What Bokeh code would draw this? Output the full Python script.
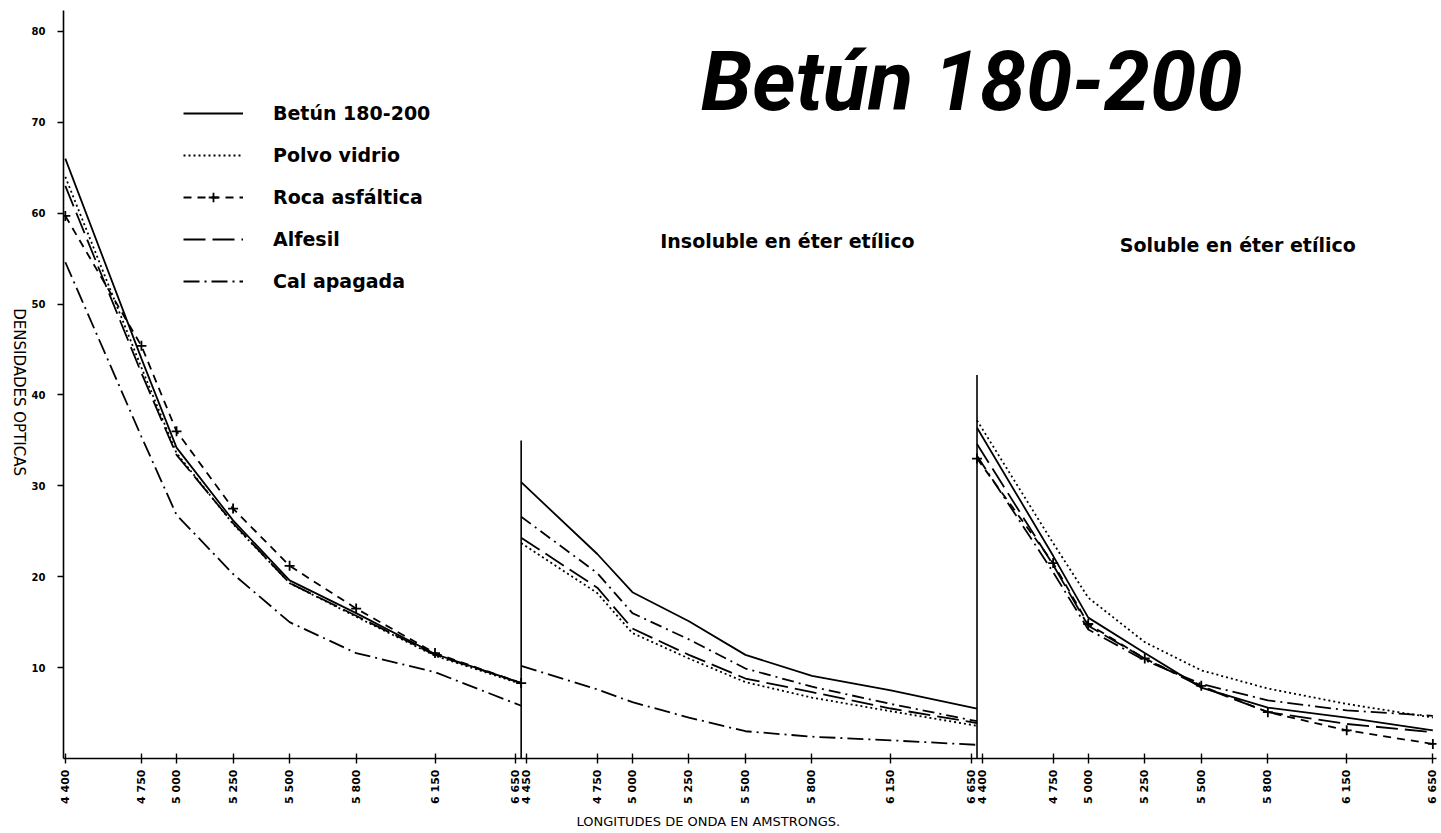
import numpy as np
from math import pi
from bokeh.plotting import figure
from bokeh.layouts import row
from bokeh.models import Range1d, FixedTicker, Label, Legend, LegendItem, Title
from bokeh.embed import file_html
from bokeh.resources import INLINE

# ---------------- data ----------------
# wavelength ticks (Angstrom) of the three panels
wl_panel1 = [4400, 4750, 5000, 5250, 5500, 5800, 6150, 6650]
wl_panel2 = [4450, 4750, 5000, 5250, 5500, 5800, 6150, 6650]
wl_panel3 = [4400, 4750, 5000, 5250, 5500, 5800, 6150, 6650]
# printed (non-uniform) wavelength scale: relative place of each tick inside a panel
tick_frac = [0.0, 0.167, 0.244, 0.368, 0.492, 0.638, 0.811, 1.0]

y_ticks = [10, 20, 30, 40, 50, 60, 70, 80]

# Panel 1 : Betún 180-200 mixtures
betun_1   = [66.0, 44.0, 34.2, 26.2, 19.6, 16.0, 11.5, 8.3]
polvo_1   = [64.0, 43.0, 33.6, 25.8, 19.3, 15.6, 11.3, 8.2]
roca_1    = [59.7, 45.4, 36.0, 27.5, 21.2, 16.5, 11.6, 8.3]
alfesil_1 = [63.0, 42.4, 33.4, 25.9, 19.3, 15.7, 11.4, 8.3]
cal_1     = [54.6, 35.4, 26.8, 20.3, 15.0, 11.6, 9.5, 5.8]

# Panel 2 : insoluble en éter etílico
betun_2   = [30.4, 22.5, 18.3, 15.1, 11.4, 9.1, 7.5, 5.5]
polvo_2   = [23.7, 18.2, 13.8, 11.0, 8.4, 6.7, 5.2, 3.6]
roca_2    = [26.6, 20.4, 16.0, 13.1, 9.9, 7.9, 6.0, 4.1]
alfesil_2 = [24.3, 18.8, 14.3, 11.4, 8.8, 7.3, 5.5, 3.9]
cal_2     = [10.2, 7.6, 6.2, 4.5, 3.0, 2.4, 2.0, 1.5]

# Panel 3 : soluble en éter etílico
betun_3   = [36.4, 22.3, 15.5, 11.6, 7.8, 5.6, 4.5, 3.1]
polvo_3   = [37.2, 23.7, 17.7, 12.8, 9.7, 7.7, 6.0, 4.5]
roca_3    = [33.0, 21.5, 14.8, 11.0, 8.0, 5.1, 3.1, 1.6]
alfesil_3 = [34.6, 21.3, 14.6, 11.0, 7.9, 5.1, 3.8, 2.9]
cal_3     = [33.3, 20.5, 14.2, 10.8, 8.2, 6.4, 5.3, 4.7]

# height of the vertical axis lines that start panels 2 and 3
divider_top = [35.0, 42.2]

series_names = ["Betún 180-200", "Polvo vidrio", "Roca asfáltica", "Alfesil", "Cal apagada"]
panel_wl = [wl_panel1, wl_panel2, wl_panel3]
panel_data = [
    [betun_1, polvo_1, roca_1, alfesil_1, cal_1],
    [betun_2, polvo_2, roca_2, alfesil_2, cal_2],
    [betun_3, polvo_3, roca_3, alfesil_3, cal_3],
]

def to_x(panel, wl):
    return panel + np.interp(wl, panel_wl[panel], tick_frac)

FONT = "DejaVu Sans"

# ---------------- narrow strip carrying the y title ----------------
side = figure(width=28, height=833, output_backend="svg", toolbar_location=None,
              x_range=Range1d(0, 28), y_range=Range1d(0, 833),
              x_axis_location=None, y_axis_location=None,
              min_border_left=0, min_border_right=0, min_border_top=0, min_border_bottom=0)
side.outline_line_color = None
side.grid.visible = False
side.add_layout(Label(x=18, y=833 - 425, text="DENSIDADES OPTICAS", text_font=FONT,
                      text_font_size="15px", text_color="black", text_baseline="middle",
                      text_align="center", angle=-pi / 2))

# ---------------- main figure ----------------
p = figure(width=1413, height=833, output_backend="svg", toolbar_location=None,
           x_range=Range1d(-0.004, 3.008), y_range=Range1d(0, 82.3),
           min_border_left=29, min_border_right=5, min_border_top=10,
           min_border_bottom=75)
p.outline_line_color = None
p.grid.visible = False
p.background_fill_color = "white"
p.border_fill_color = "white"

styles = {
    "Betún 180-200": dict(line_dash="solid"),
    "Polvo vidrio": dict(line_dash="2 3"),
    "Roca asfáltica": dict(line_dash="8 6"),
    "Alfesil": dict(line_dash="22 7"),
    "Cal apagada": dict(line_dash="16 5 2 5"),
}

first = {}
for pi_, data in enumerate(panel_data):
    xs = to_x(pi_, panel_wl[pi_])
    for name, vals in zip(series_names, data):
        st = dict(styles[name])
        if name == "Roca asfáltica" and pi_ == 1:
            st = dict(line_dash="12 5 2 5")
        r = p.line(xs, vals, line_color="black", line_width=1.8, **st)
        rs = [r]
        if name == "Roca asfáltica" and pi_ != 1:
            m = p.scatter(xs, vals, marker="cross", size=10, line_color="black", line_width=1.8)
            rs.append(m)
        if name not in first:
            first[name] = rs

# panel separators (vertical axes of panels 2 and 3)
p.segment(x0=[1, 2], y0=[0, 0], x1=[1, 2], y1=divider_top, line_color="black", line_width=1.6)

# ---------------- axes ----------------
tick_pos, tick_lab = [], []
for pi_ in range(3):
    for w, f in zip(panel_wl[pi_], tick_frac):
        x = pi_ + f
        if pi_ < 2 and f == 1.0:
            x -= 0.012
        if pi_ > 0 and f == 0.0:
            x += 0.012
        tick_pos.append(x)
        tick_lab.append(f"{w // 1000} {w % 1000:03d}")

xa = p.xaxis[0]
xa.ticker = FixedTicker(ticks=tick_pos)
xa.major_label_overrides = {t: l for t, l in zip(tick_pos, tick_lab)}
xa.major_label_orientation = pi / 2
xa.major_label_text_font = FONT
xa.major_label_text_font_style = "bold"
xa.major_label_text_font_size = "11px"
xa.major_label_text_color = "black"
xa.major_label_standoff = 6
xa.major_tick_in = 5
xa.major_tick_out = 5
xa.minor_tick_line_color = None
xa.axis_line_width = 1.6
xa.major_tick_line_width = 1.4

ya = p.yaxis[0]
ya.ticker = FixedTicker(ticks=y_ticks)
ya.major_label_text_font = FONT
ya.major_label_text_font_style = "bold"
ya.major_label_text_font_size = "10px"
ya.major_label_text_color = "black"
ya.major_label_standoff = 12
ya.major_tick_in = 0
ya.major_tick_out = 6
ya.minor_tick_line_color = None
ya.axis_line_width = 1.6
ya.major_tick_line_width = 1.4

p.add_layout(Title(text="LONGITUDES  DE  ONDA  EN  AMSTRONGS.", text_font=FONT,
                   text_font_size="13px", text_font_style="normal", text_color="black",
                   align="left", offset=513, standoff=10), "below")

# ---------------- texts ----------------
p.add_layout(Label(x=1.394, y=74.5, text="Betún 180-200", text_font="Roboto",
                   text_font_style="bold italic", text_font_size="83px",
                   text_baseline="alphabetic", text_align="left", text_color="black"))
p.add_layout(Label(x=1.584, y=56.9, text="Insoluble en éter etílico", text_font=FONT,
                   text_font_style="bold", text_font_size="19px",
                   text_baseline="middle", text_align="center", text_color="black"))
p.add_layout(Label(x=2.572, y=56.5, text="Soluble en éter etílico", text_font=FONT,
                   text_font_style="bold", text_font_size="19px",
                   text_baseline="middle", text_align="center", text_color="black"))

legend = Legend(items=[LegendItem(label=n, renderers=first[n]) for n in series_names],
                location=(120, 465), orientation="vertical",
                glyph_width=60, glyph_height=24, label_height=24, spacing=18,
                label_standoff=30, padding=0, margin=0,
                label_text_font=FONT, label_text_font_style="bold",
                label_text_font_size="19px", label_text_color="black",
                border_line_color=None, background_fill_alpha=0)
p.add_layout(legend)

layout = row(side, p, spacing=0)
open("out.html", "w").write(file_html(layout, INLINE))
